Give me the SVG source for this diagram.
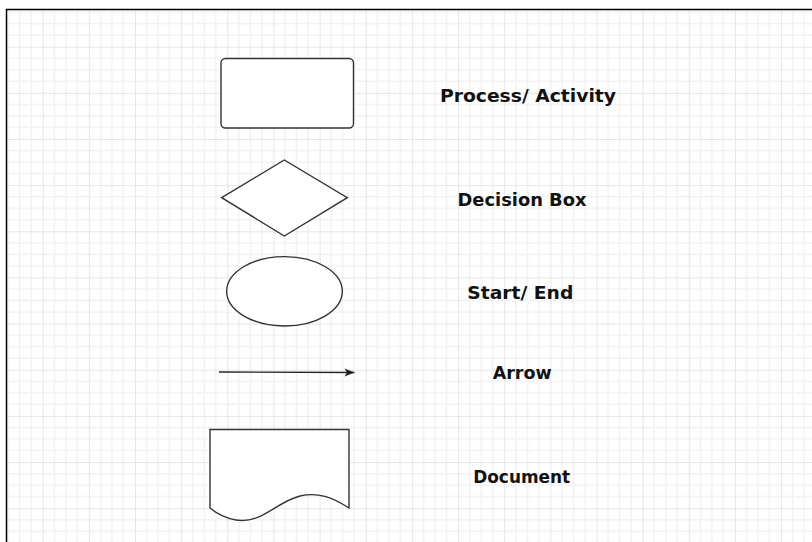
<svg xmlns="http://www.w3.org/2000/svg" width="812" height="542" viewBox="0 0 812 542">
  <style>
    .shape { fill: #ffffff; stroke: #333333; stroke-width: 1.4; }
    .edge { fill: none; stroke: #222222; stroke-width: 1.4; }
    .label { font-family: "DejaVu Sans", Verdana, sans-serif; font-weight: bold; font-size: 18.4px; fill: #111111; text-anchor: middle; }
    .minor { stroke: #f2f2f2; stroke-width: 1.6; }
    .major { stroke: #e6e6e6; stroke-width: 2; }
  </style>
  <defs>
    <pattern id="grid" patternUnits="userSpaceOnUse" x="42.7" y="46.7" width="46.15" height="46.15">
      <rect width="46.15" height="46.15" fill="#ffffff"/>
      <line class="minor" x1="11.54" y1="0" x2="11.54" y2="46.15"/>
      <line class="minor" x1="23.08" y1="0" x2="23.08" y2="46.15"/>
      <line class="minor" x1="34.61" y1="0" x2="34.61" y2="46.15"/>
      <line class="minor" x1="0" y1="11.54" x2="46.15" y2="11.54"/>
      <line class="minor" x1="0" y1="23.08" x2="46.15" y2="23.08"/>
      <line class="minor" x1="0" y1="34.61" x2="46.15" y2="34.61"/>
      <line class="major" x1="0" y1="0" x2="0" y2="46.15"/>
      <line class="major" x1="0" y1="0" x2="46.15" y2="0"/>
    </pattern>
    <marker id="arrowhead" markerUnits="userSpaceOnUse" markerWidth="12" markerHeight="10" refX="10" refY="5" orient="auto">
      <path d="M0,1 L10,5 L0,9 L2.5,5 Z" fill="#222222"/>
    </marker>
  </defs>

  <!-- canvas -->
  <rect width="812" height="542" fill="#ffffff"/>
  <rect x="7" y="10" width="805" height="532" fill="url(#grid)"/>
  <path d="M6.5,542 L6.5,9.5 L812,9.5" fill="none" stroke="#000000" stroke-width="1.5"/>

  <!-- legend shapes -->
  <g id="process">
    <rect class="shape" x="221" y="58.5" width="132.5" height="69.5" rx="4.5"/>
  </g>
  <g id="decision">
    <polygon class="shape" points="221.7,197.7 284.3,160 347.3,197.7 284.3,236"/>
  </g>
  <g id="terminator">
    <ellipse class="shape" cx="284.5" cy="291.3" rx="57.8" ry="34.7"/>
  </g>
  <g id="document">
    <path class="shape" d="M210,429.5 L349,429.5 L349,508 C332,497 318,492 300,496 C276,502 262,524 236,520 C224,518 216,513 210,508 Z"/>
  </g>

  <!-- connectors -->
  <g id="connectors">
    <line class="edge" x1="219" y1="372" x2="354.5" y2="372.5" marker-end="url(#arrowhead)"/>
  </g>

  <!-- labels -->
  <g id="labels">
    <text class="label" x="528" y="102" textLength="176" lengthAdjust="spacingAndGlyphs">Process/ Activity</text>
    <text class="label" x="522" y="206" textLength="129" lengthAdjust="spacingAndGlyphs">Decision Box</text>
    <text class="label" x="520.3" y="299.3" textLength="106" lengthAdjust="spacingAndGlyphs">Start/ End</text>
    <text class="label" x="522.2" y="379.3" textLength="59" lengthAdjust="spacingAndGlyphs">Arrow</text>
    <text class="label" x="521.7" y="482.7" textLength="97" lengthAdjust="spacingAndGlyphs">Document</text>
  </g>
</svg>
